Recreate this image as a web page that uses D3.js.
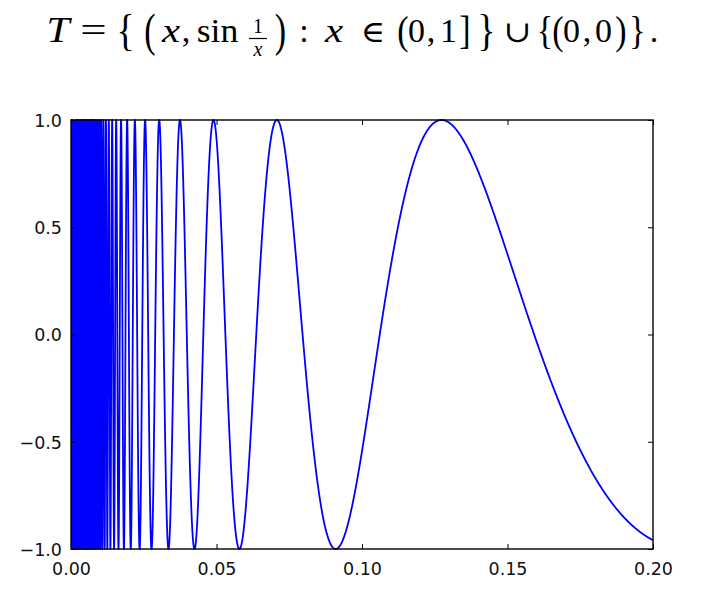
<!DOCTYPE html>
<html>
<head>
<meta charset="utf-8">
<script src="https://cdn.jsdelivr.net/npm/d3@7"></script>
<style>
  html, body { margin: 0; padding: 0; background: #fff; }
  svg { display: block; }
</style>
</head>
<body>
<script>
// ---- data ----
const xDomain = [0, 0.2];
const yDomain = [-1, 1];
const xTicks = [0, 0.05, 0.10, 0.15, 0.20];
const xTickLabels = ["0.00", "0.05", "0.10", "0.15", "0.20"];
const yTicks = [-1, -0.5, 0, 0.5, 1];
const yTickLabels = ["\u22121.0", "\u22120.5", "0.0", "0.5", "1.0"];
// the plotted set is the one named in the title: y = sin(1/x)
const curveFn = x => Math.sin(1 / x);
const sampleCount = 40000;
const curveXs = d3.range(1, sampleCount + 1).map(i => xDomain[1] * i / sampleCount);
const curveData = curveXs.map(x => ({x, y: curveFn(x)}));

// ---- layout ----
const W = 719, H = 594;
const plot = {left: 71, right: 653, top: 120, bottom: 549};

const svg = d3.select("body").append("svg").attr("width", W).attr("height", H);

const x = d3.scaleLinear().domain(xDomain).range([plot.left, plot.right]);
const y = d3.scaleLinear().domain(yDomain).range([plot.bottom, plot.top]);

svg.append("defs").append("clipPath").attr("id", "clip")
  .append("rect").attr("x", plot.left).attr("y", plot.top - 1)
  .attr("width", plot.right - plot.left).attr("height", plot.bottom - plot.top + 2);

const line = d3.line().x(d => x(d.x)).y(d => y(d.y));
svg.append("path").datum(curveData)
  .attr("clip-path", "url(#clip)")
  .attr("d", line)
  .attr("fill", "none")
  .attr("stroke", "#0000ff")
  .attr("stroke-width", 1.8)
  .attr("stroke-linejoin", "round");

// axes with inward ticks on all sides
const tickLen = 5;
const fontAxis = "DejaVu Sans, sans-serif";
const bottomAxis = d3.axisBottom(x).tickValues(xTicks).tickSizeInner(-tickLen).tickSizeOuter(0)
  .tickPadding(10).tickFormat((d, i) => xTickLabels[i]);
const topAxis = d3.axisTop(x).tickValues(xTicks).tickSizeInner(-tickLen).tickSizeOuter(0).tickFormat("");
const leftAxis = d3.axisLeft(y).tickValues(yTicks).tickSizeInner(-tickLen).tickSizeOuter(0)
  .tickPadding(9).tickFormat((d, i) => yTickLabels[i]);
const rightAxis = d3.axisRight(y).tickValues(yTicks).tickSizeInner(-tickLen).tickSizeOuter(0).tickFormat("");

function styleAxis(g) {
  g.select(".domain").remove();
  g.selectAll(".tick line").attr("stroke", "#000").attr("stroke-width", 1);
  g.selectAll(".tick text").attr("fill", "#111").attr("font-family", fontAxis).attr("font-size", "17.5px");
}
svg.append("g").attr("transform", `translate(0,${plot.bottom})`).call(bottomAxis).call(styleAxis)
  .selectAll(".tick text").attr("dy", "0.9em");
svg.append("g").attr("transform", `translate(0,${plot.top})`).call(topAxis).call(styleAxis);
svg.append("g").attr("transform", `translate(${plot.left},0)`).call(leftAxis).call(styleAxis)
  .selectAll(".tick text").attr("dy", "0.36em");
svg.append("g").attr("transform", `translate(${plot.right},0)`).call(rightAxis).call(styleAxis);

// spines
svg.append("rect").attr("x", plot.left).attr("y", plot.top)
  .attr("width", plot.right - plot.left).attr("height", plot.bottom - plot.top)
  .attr("fill", "none").attr("stroke", "#000").attr("stroke-width", 1.4);

// ---- title (math set notation) ----
const serif = "Liberation Serif, DejaVu Serif, serif";
const base = 42;
const tg = svg.append("g").attr("fill", "#000").attr("font-family", serif);
// pieces: [text, centerX, size, italic, horizontal scale, vertical scale]
const titlePieces = [
  ["T", 58, 36, true, 1.15, 1],
  ["=", 93.5, 36, false, 1.3, 1],
  ["{", 125.5, 34, false, 1.1, 1.3],
  ["(", 150, 34, false, 1, 1.35],
  ["x", 171, 34, true, 1.2, 1],
  [",", 186, 34, false, 1, 1],
  ["sin", 217.5, 34, false, 1.05, 1],
  [")", 280.5, 34, false, 1, 1.35],
  [":", 304, 34, false, 1, 1],
  ["x", 334, 34, true, 1.2, 1],
  ["\u2208", 373, 30, false, 1.1, 1],
  ["(", 403, 34, false, 1, 1.15],
  ["0", 416.5, 34, false, 1, 1],
  [",", 431, 34, false, 1, 1],
  ["1", 448.5, 34, false, 1, 1],
  ["]", 465, 34, false, 1, 1.15],
  ["}", 486.5, 34, false, 1.1, 1.3],
  ["\u222A", 517.5, 30, false, 1.1, 1],
  ["{", 545, 34, false, 1, 1.15],
  ["(", 558, 34, false, 1, 1.15],
  ["0", 571.5, 34, false, 1, 1],
  [",", 587, 34, false, 1, 1],
  ["0", 603.5, 34, false, 1, 1],
  [")", 621, 34, false, 1, 1.15],
  ["}", 637.5, 34, false, 1, 1.15],
  [".", 654, 34, false, 1, 1]
];
titlePieces.forEach(([t, cx, size, it, sx, sy]) => {
  // stretched delimiters stay centred on the math axis (~10px above the baseline)
  const axisY = base - 10;
  const g = tg.append("g").attr("transform", `translate(${cx},${axisY}) scale(${sx},${sy}) translate(0,${base - axisY})`);
  g.append("text").attr("text-anchor", "middle").attr("font-size", size + "px")
    .attr("font-style", it ? "italic" : "normal").text(t);
});
// fraction 1/x
tg.append("text").attr("x", 258).attr("y", 33).attr("text-anchor", "middle")
  .attr("font-size", "20px").text("1");
tg.append("line").attr("x1", 249).attr("x2", 267).attr("y1", 38.5).attr("y2", 38.5)
  .attr("stroke", "#000").attr("stroke-width", 1.2);
tg.append("text").attr("x", 258).attr("y", 56).attr("text-anchor", "middle")
  .attr("font-size", "20px").attr("font-style", "italic").text("x");
</script>
</body>
</html>
